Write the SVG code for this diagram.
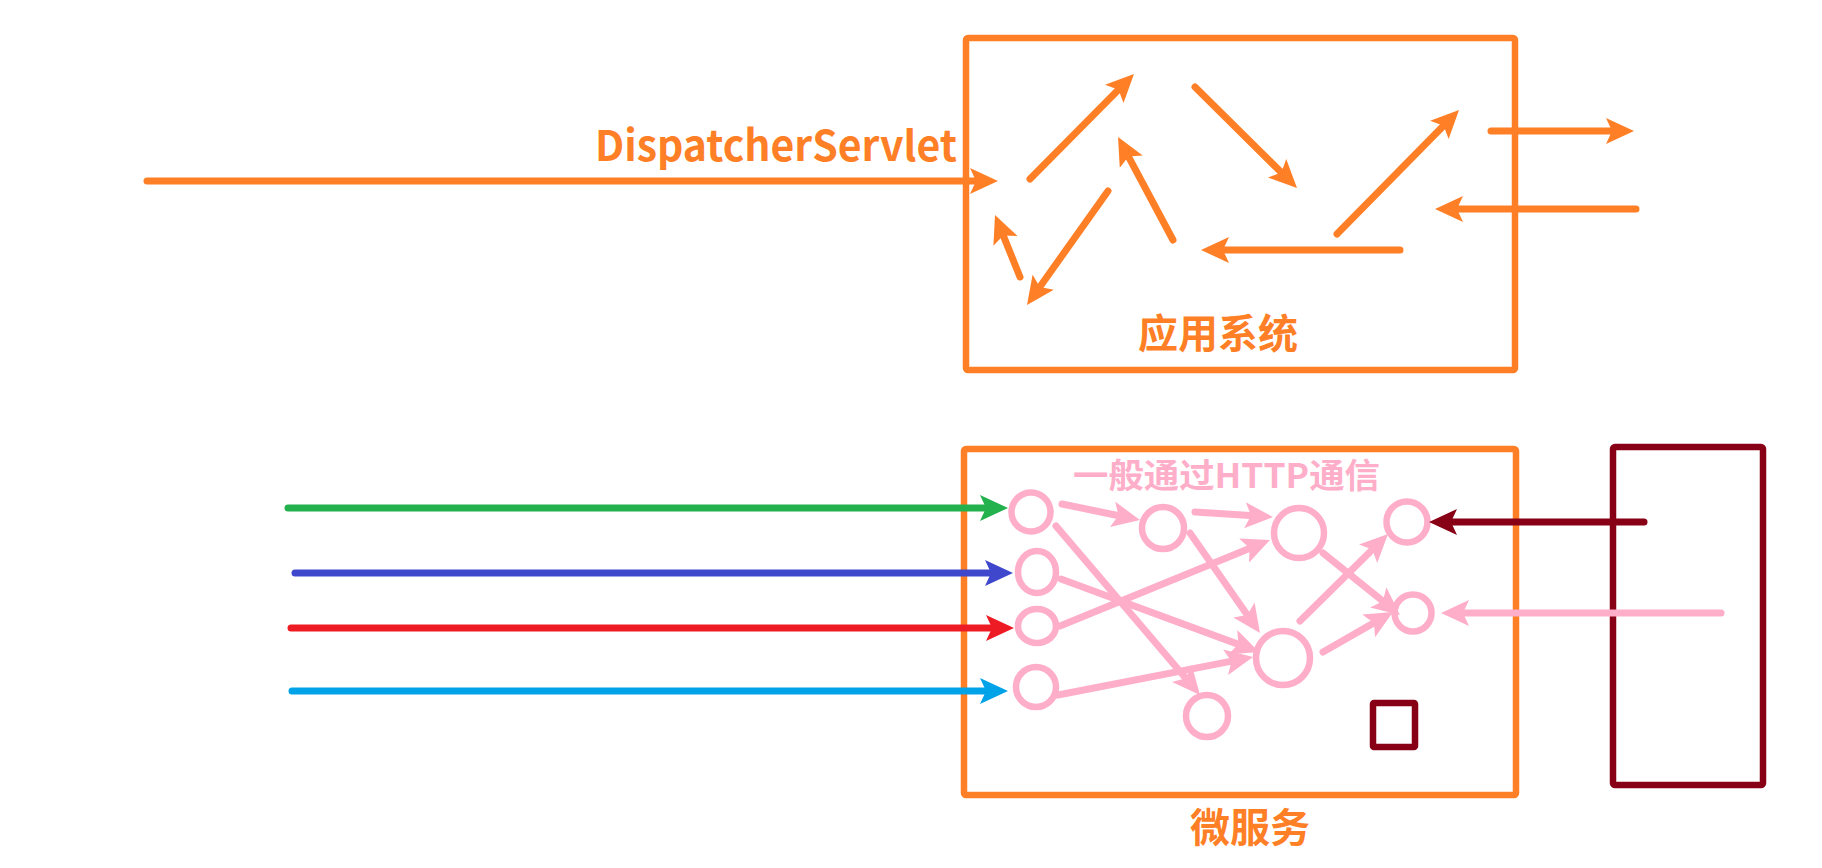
<svg xmlns="http://www.w3.org/2000/svg" width="1822" height="868" viewBox="0 0 1822 868">
<style>
.ln{fill:none;stroke-width:7;stroke-linecap:round;stroke-linejoin:round}
.o{stroke:#FF7F27}.p{stroke:#FFAEC9}.g{stroke:#22B14C}.b{stroke:#3F48CC}.r{stroke:#ED1C24}.lb{stroke:#00A2E8}.dr{stroke:#880015}
.box{fill:none;stroke-width:6.5;stroke-linejoin:round}
.nd{fill:none;stroke:#FFAEC9;stroke-width:6.5}
.t{font-family:"Noto Sans CJK SC","Liberation Sans",sans-serif;font-weight:bold}
</style>
<defs>
<marker id="mo" markerUnits="userSpaceOnUse" viewBox="0 0 28 26" markerWidth="28" markerHeight="26" refX="9" refY="13" orient="auto"><path d="M0,0 L28,13 L0,26 L6,13 Z" fill="#FF7F27"/></marker>
<marker id="mp" markerUnits="userSpaceOnUse" viewBox="0 0 28 26" markerWidth="28" markerHeight="26" refX="9" refY="13" orient="auto"><path d="M0,0 L28,13 L0,26 L6,13 Z" fill="#FFAEC9"/></marker>
<marker id="mg" markerUnits="userSpaceOnUse" viewBox="0 0 28 26" markerWidth="28" markerHeight="26" refX="9" refY="13" orient="auto"><path d="M0,0 L28,13 L0,26 L6,13 Z" fill="#22B14C"/></marker>
<marker id="mb" markerUnits="userSpaceOnUse" viewBox="0 0 28 26" markerWidth="28" markerHeight="26" refX="9" refY="13" orient="auto"><path d="M0,0 L28,13 L0,26 L6,13 Z" fill="#3F48CC"/></marker>
<marker id="mr" markerUnits="userSpaceOnUse" viewBox="0 0 28 26" markerWidth="28" markerHeight="26" refX="9" refY="13" orient="auto"><path d="M0,0 L28,13 L0,26 L6,13 Z" fill="#ED1C24"/></marker>
<marker id="mlb" markerUnits="userSpaceOnUse" viewBox="0 0 28 26" markerWidth="28" markerHeight="26" refX="9" refY="13" orient="auto"><path d="M0,0 L28,13 L0,26 L6,13 Z" fill="#00A2E8"/></marker>
<marker id="mdr" markerUnits="userSpaceOnUse" viewBox="0 0 28 26" markerWidth="28" markerHeight="26" refX="9" refY="13" orient="auto"><path d="M0,0 L28,13 L0,26 L6,13 Z" fill="#880015"/></marker>
</defs>
<rect width="1822" height="868" fill="#FFFFFF"/>

<g id="app-system">
<rect class="box o" x="966" y="38" width="549" height="332" rx="2"/>
<text class="t" x="1218" y="348" font-size="40" fill="#FF7F27" text-anchor="middle">应用系统</text>
</g>
<g id="microservices">
<rect class="box o" x="964" y="449" width="552" height="346" rx="2"/>
<text class="t" x="1250" y="842" font-size="40" fill="#FF7F27" text-anchor="middle">微服务</text>
<text class="t" x="1073" y="488" font-size="34" fill="#FFAEC9" textLength="307" lengthAdjust="spacingAndGlyphs">一般通过HTTP通信</text>
</g>
<g id="client">
<rect class="box dr" x="1613" y="447" width="150" height="338" rx="2"/>
</g>
<g id="small-node">
<rect class="box dr" x="1373" y="703" width="42" height="44" rx="1"/>
</g>
<g id="label-dispatcher">
<text class="t" x="595" y="161" font-size="42" fill="#FF7F27" textLength="362" lengthAdjust="spacingAndGlyphs">DispatcherServlet</text>
</g>
<g id="service-nodes">
<circle id="n1" class="nd" cx="1031" cy="512" r="19.5"/>
<ellipse id="n2" class="nd" cx="1037" cy="572" rx="19" ry="21"/>
<ellipse id="n3" class="nd" cx="1037" cy="626" rx="19" ry="17"/>
<circle id="n4" class="nd" cx="1036" cy="687" r="20"/>
<circle id="n5" class="nd" cx="1163" cy="528" r="21"/>
<circle id="n6" class="nd" cx="1299" cy="533" r="25"/>
<circle id="n7" class="nd" cx="1283" cy="658" r="27"/>
<circle id="n8" class="nd" cx="1207" cy="716" r="21"/>
<circle id="n9" class="nd" cx="1407" cy="522" r="20.5"/>
<circle id="n10" class="nd" cx="1413" cy="613" r="18.5"/>
</g>
<g id="connectors">
<line class="ln o" x1="147" y1="181" x2="979" y2="181" marker-end="url(#mo)"/>
<line class="ln o" x1="1030" y1="179" x2="1120.6" y2="87.5" marker-end="url(#mo)"/>
<line class="ln o" x1="1195" y1="87" x2="1283.5" y2="174.6" marker-end="url(#mo)"/>
<line class="ln o" x1="1173" y1="240" x2="1127" y2="153.8" marker-end="url(#mo)"/>
<line class="ln o" x1="1108" y1="191" x2="1038" y2="289.5" marker-end="url(#mo)"/>
<line class="ln o" x1="1020" y1="277" x2="1002.1" y2="232.6" marker-end="url(#mo)"/>
<line class="ln o" x1="1400" y1="250" x2="1220" y2="250" marker-end="url(#mo)"/>
<line class="ln o" x1="1337" y1="234" x2="1445.7" y2="123.5" marker-end="url(#mo)"/>
<line class="ln o" x1="1491" y1="131" x2="1615" y2="131" marker-end="url(#mo)"/>
<line class="ln o" x1="1636" y1="209" x2="1454" y2="209" marker-end="url(#mo)"/>

<line class="ln g" x1="288" y1="508" x2="989" y2="508" marker-end="url(#mg)"/>
<line class="ln b" x1="295" y1="573" x2="994" y2="573" marker-end="url(#mb)"/>
<line class="ln r" x1="291" y1="628" x2="995" y2="628" marker-end="url(#mr)"/>
<line class="ln lb" x1="292" y1="691" x2="989" y2="691" marker-end="url(#mlb)"/>
<line class="ln dr" x1="1644" y1="522" x2="1448" y2="522" marker-end="url(#mdr)"/>
<line class="ln p" x1="1721" y1="613" x2="1460" y2="613" marker-end="url(#mp)"/>

<line class="ln p" x1="1062" y1="504" x2="1121.4" y2="516.2" marker-end="url(#mp)"/>
<line class="ln p" x1="1195" y1="512" x2="1254" y2="515.8" marker-end="url(#mp)"/>
<line class="ln p" x1="1056" y1="526" x2="1187.7" y2="680.5" marker-end="url(#mp)"/>
<line class="ln p" x1="1060" y1="626" x2="1252.4" y2="547.2" marker-end="url(#mp)"/>
<line class="ln p" x1="1061" y1="579" x2="1241.2" y2="645.4" marker-end="url(#mp)"/>
<line class="ln p" x1="1190" y1="533" x2="1249.1" y2="617.4" marker-end="url(#mp)"/>
<line class="ln p" x1="1058" y1="695" x2="1234.4" y2="660.6" marker-end="url(#mp)"/>
<line class="ln p" x1="1300" y1="621" x2="1374.5" y2="547.4" marker-end="url(#mp)"/>
<line class="ln p" x1="1323" y1="553" x2="1385.2" y2="603.1" marker-end="url(#mp)"/>
<line class="ln p" x1="1323" y1="652" x2="1376.5" y2="621.4" marker-end="url(#mp)"/>
</g>
</svg>
